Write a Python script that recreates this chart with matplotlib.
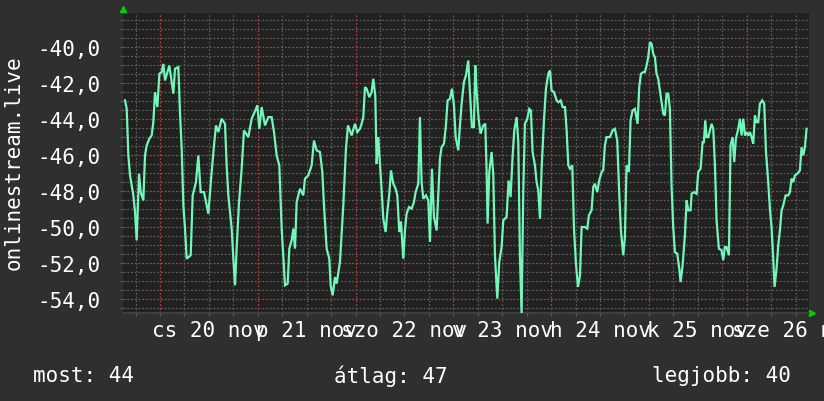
import matplotlib
matplotlib.use("Agg")
import matplotlib.pyplot as plt
import numpy as np
from matplotlib.ticker import MultipleLocator, FixedLocator, FuncFormatter

# hours from 2025-11-20 00:00, value (dB-ish)
hours = [
    -8.59, -8.18, -7.77, -7.36, -6.54, -6.14, -5.73, -5.15, -4.74, -4.09,
    -3.68, -3.27, -2.62, -2.05, -1.64, -1.23, -0.65, -0.16, 0.41, 0.82,
    1.23, 2.29, 3.27, 3.68, 4.50, 4.91, 5.32, 5.73, 6.14, 6.54,
    7.53, 8.02, 8.83, 9.41, 9.98, 10.80, 11.86, 12.68, 13.25, 13.74,
    14.32, 15.13, 15.95, 16.36, 16.77, 17.59, 18.00, 18.41, 18.81, 19.39,
    20.04, 20.61, 21.68, 22.50, 23.56, 23.89, 24.38, 24.95, 25.77, 26.59,
    27.40, 27.98, 28.63, 29.28, 29.86, 30.68, 31.33, 31.74, 32.31, 32.72,
    33.13, 33.54, 34.36, 35.17, 35.58, 36.40, 37.22, 37.79, 38.45, 39.26,
    39.84, 40.25, 40.90, 41.55, 41.88, 42.37, 42.95, 43.35, 44.17, 44.99,
    45.64, 46.14, 47.04, 47.85, 48.43, 49.08,
    49.49, 49.90, 50.31, 50.72, 51.37, 51.94, 52.35, 52.84, 53.17, 53.58,
    53.99, 54.40, 54.81, 55.38, 55.79, 56.28, 56.69, 57.26, 57.83, 58.24,
    58.73, 59.14, 59.71, 60.12, 60.53, 61.11, 61.76, 62.33, 62.74, 63.40,
    63.80, 64.21, 64.62, 65.28, 65.85, 66.26, 66.75, 67.24, 67.89, 68.30,
    68.71, 69.12, 69.70, 70.18, 70.59, 71.17, 71.66, 72.15, 72.56, 73.21,
    73.62, 74.03, 74.60, 75.09, 75.66, 76.07, 76.56, 77.05, 77.38, 77.71,
    78.20, 78.69, 79.34, 79.84, 80.16, 80.41, 80.82, 81.39, 81.80, 82.21,
    82.78, 83.27, 83.85, 84.26, 85.07, 85.56, 86.05, 86.54, 86.95, 87.53,
    87.94, 88.34, 88.75, 89.16, 89.57, 90.15, 90.64, 91.04, 91.45, 92.03,
    92.44, 92.85, 93.26, 93.67, 94.24, 94.73, 95.30, 95.71, 96.12, 96.70,
    97.35, 97.76, 98.34, 98.83, 99.40, 99.81, 100.22, 100.63, 101.20, 101.61,
    102.10, 102.59, 103.09,
    103.48, 104.30, 104.87, 105.28, 105.93, 106.34, 106.75, 107.32, 107.81, 108.39,
    108.79, 109.20, 109.61, 110.43, 111.08, 111.66, 112.23, 112.72, 113.13, 113.70,
    114.11, 114.52, 115.09, 115.50, 115.99, 116.57, 117.22, 117.63, 118.04, 118.61,
    119.02, 119.43, 119.84, 120.25, 120.66, 121.06, 121.47, 121.88, 122.29, 122.70,
    123.11, 123.52, 123.93, 124.34, 124.75, 125.15, 125.56, 125.97, 126.38, 126.96,
    127.45, 127.78, 128.27, 128.84, 129.25, 129.66, 130.23, 130.48, 131.05, 131.70,
    132.11, 132.69, 133.18, 133.50, 133.83, 134.16, 134.57, 134.98, 135.39, 135.80,
    136.21, 136.61, 137.18, 137.84, 138.25, 138.65, 139.06, 139.64, 140.04, 140.54,
    140.95, 141.35, 141.93, 142.34, 142.75, 143.16, 143.57, 143.98, 144.39, 144.80,
    145.20, 145.61, 146.02, 146.43, 146.84, 147.24, 147.82, 148.31, 148.72, 149.29,
    149.70, 150.11, 150.52, 150.85, 151.34, 151.75, 152.16, 152.57, 152.98, 153.55,
    154.20, 154.61, 155.02, 155.43, 155.84, 156.41, 157.07, 157.48, 157.89, 158.29,
    158.70,
]
values = [
    -42.96, -43.43, -46.02, -47.13, -48.24, -49.17, -50.74, -47.04, -48.06, -48.52,
    -46.02, -45.46, -45.09, -44.91, -44.17, -42.50, -43.33, -41.48, -41.39, -40.93,
    -41.85, -41.02, -42.59, -41.20, -41.11, -43.70, -45.65, -48.80, -50.09, -51.76,
    -51.57, -48.24, -47.50, -46.02, -48.06, -48.06, -49.26, -46.94, -45.46, -44.35,
    -44.72, -43.98, -44.26, -46.57, -48.24, -50.09, -51.76, -53.24, -51.20, -48.61,
    -46.76, -44.63, -45.00, -43.98, -43.43, -43.24, -44.54, -43.33, -44.35, -43.89,
    -43.89, -44.72, -46.02, -46.57, -50.09, -53.24, -53.15, -51.20, -50.74, -50.09,
    -51.20, -48.61, -47.87, -48.24, -47.31, -47.13, -46.57, -45.19, -45.74, -45.83,
    -46.94, -48.80, -51.20, -51.76, -53.24, -53.80, -52.78, -53.15, -51.94, -48.80,
    -45.65, -44.35, -44.91, -44.26, -44.72, -44.54,
    -44.26, -43.89, -42.22, -42.31, -42.78, -42.50, -41.76, -42.69, -46.48, -45.00,
    -46.48, -47.96, -49.54, -50.28, -49.17, -48.15, -46.85, -47.59, -47.87, -48.24,
    -50.28, -49.69, -51.76, -50.19, -49.26, -48.89, -48.98, -48.61, -48.06, -47.59,
    -43.89, -47.50, -48.43, -48.24, -48.52, -50.83, -46.76, -49.44, -50.19, -48.24,
    -46.20, -45.56, -45.37, -44.35, -42.96, -42.87, -42.31, -43.24, -45.00, -45.74,
    -44.35, -43.15, -41.94, -41.57, -40.74, -42.50, -44.44, -44.44, -41.02, -42.41,
    -43.98, -44.81, -44.35, -44.26, -46.85, -49.81, -46.94, -45.83, -47.04, -51.57,
    -53.98, -51.94, -51.11, -49.63, -49.44, -47.41, -48.33, -46.11, -44.63, -43.89,
    -45.28, -51.57, -54.81, -48.06, -44.26, -43.98, -43.43, -43.52, -45.83, -46.57,
    -47.50, -47.96, -49.54, -46.76, -44.07, -42.31, -41.48, -41.30, -42.41, -42.50,
    -42.96, -43.06, -42.96, -43.33, -43.33, -44.63, -46.57, -46.76, -46.57, -50.09,
    -52.04, -53.33, -52.69,
    -50.00, -50.00, -50.09, -49.35, -49.07, -47.78, -47.59, -48.06, -47.41, -46.94,
    -46.85, -45.46, -45.00, -45.00, -44.63, -44.54, -45.19, -48.15, -50.19, -51.57,
    -50.56, -46.57, -46.94, -44.07, -43.52, -43.43, -44.26, -42.22, -41.48, -41.39,
    -41.39, -41.02, -40.56, -39.72, -39.81, -40.37, -40.56, -41.48, -41.76, -42.41,
    -43.06, -43.70, -43.80, -42.59, -42.59, -43.43, -47.69, -50.00, -51.39, -51.48,
    -52.31, -53.06, -52.13, -50.46, -48.52, -49.07, -49.07, -48.15, -48.06, -48.15,
    -46.94, -46.76, -45.28, -45.28, -44.07, -45.00, -45.00, -44.63, -44.26, -44.54,
    -46.57, -49.63, -51.20, -51.30, -51.85, -51.11, -51.11, -51.57, -45.46, -45.00,
    -46.39, -45.09, -44.54, -43.98, -44.91, -43.98, -44.91, -44.72, -44.91, -44.72,
    -45.00, -45.37, -43.80, -44.17, -44.17, -43.15, -42.96, -43.15, -45.74, -47.50,
    -48.98, -50.00, -51.76, -53.33, -52.31, -51.02, -50.19, -49.07, -48.80, -48.24,
    -48.24, -48.06, -47.31, -47.50, -47.13, -47.04, -46.85, -45.56, -46.02, -45.56,
    -44.54,
]

day_labels = ["cs 20 nov", "p 21 nov", "szo 22 nov", "v 23 nov",
              "h 24 nov", "k 25 nov", "sze 26 nov"]
label_hours = [12, 36, 60, 84, 108, 132, 156]

summary = [("most: 44", 0.040), ("átlag: 47", 0.405), ("legjobb: 40", 0.791)]

BG = "#2f2f2f"
PLOT_BG = "#212121"
LINE = "#72f7b9"
FONT = "DejaVu Sans Mono"

plt.rcParams["axes.unicode_minus"] = False
plt.rcParams["font.family"] = FONT

fig = plt.figure(figsize=(8.24, 4.02), dpi=100, facecolor=BG)
ax = fig.add_axes([0.1493, 0.2189, 0.8325, 0.7463], facecolor=PLOT_BG)

ax.plot(hours, values, color=LINE, lw=1.6, zorder=3, solid_joinstyle="miter")

ax.set_xlim(-9.08, 159.3)
ax.set_ylim(-54.78, -38.1)

# minor grid only where no major line sits
xminor = [h for h in range(-6, 160, 6) if h % 24 != 0]
yminor = [v for v in np.arange(-54.5, -38.0, 0.5) if abs(v % 2) > 1e-6]
ax.xaxis.set_major_locator(MultipleLocator(24))
ax.xaxis.set_minor_locator(FixedLocator(xminor))
ax.yaxis.set_major_locator(MultipleLocator(2))
ax.yaxis.set_minor_locator(FixedLocator(yminor))
ax.yaxis.set_major_formatter(FuncFormatter(lambda v, p: f"{v:.1f}".replace(".", ",")))
ax.xaxis.set_major_formatter(FuncFormatter(lambda v, p: ""))

# rrdtool style dotted grid: gray every 6h / 0,5, red every day / 2,0
ax.grid(which="minor", color="#5c5c5c", ls=(0, (1.5, 1.5)), lw=0.9)
ax.grid(which="major", color="#b04040", ls=(0, (1.5, 1.5)), lw=0.9)

ax.tick_params(which="both", colors="#5a5a5a", length=2, width=0.8)
ax.tick_params(axis="y", which="major", labelcolor="white", labelsize=15, pad=14)

for s in ["top", "right", "left"]:
    ax.spines[s].set_visible(False)
ax.spines["bottom"].set_color("#454545")
ax.spines["bottom"].set_linewidth(1.2)

for h, lab in zip(label_hours, day_labels):
    ax.text(h, -0.055, lab, transform=ax.get_xaxis_transform(), ha="center", va="center",
            color="white", fontsize=15, clip_on=False)

ax.plot([0], [1.012], marker="^", color="#00d000", ms=5, transform=ax.transAxes, clip_on=False)
ax.plot([1.005], [0.0], marker=">", color="#00d000", ms=5, transform=ax.transAxes, clip_on=False)

fig.text(0.016, 0.595, "onlinestream.live", rotation=90, ha="center", va="center",
         color="white", fontsize=15)

for txt, xpos in summary:
    fig.text(xpos, 0.065, txt, ha="left", va="center", color="white", fontsize=15)

fig.savefig("out.png", dpi=100, facecolor=BG)
